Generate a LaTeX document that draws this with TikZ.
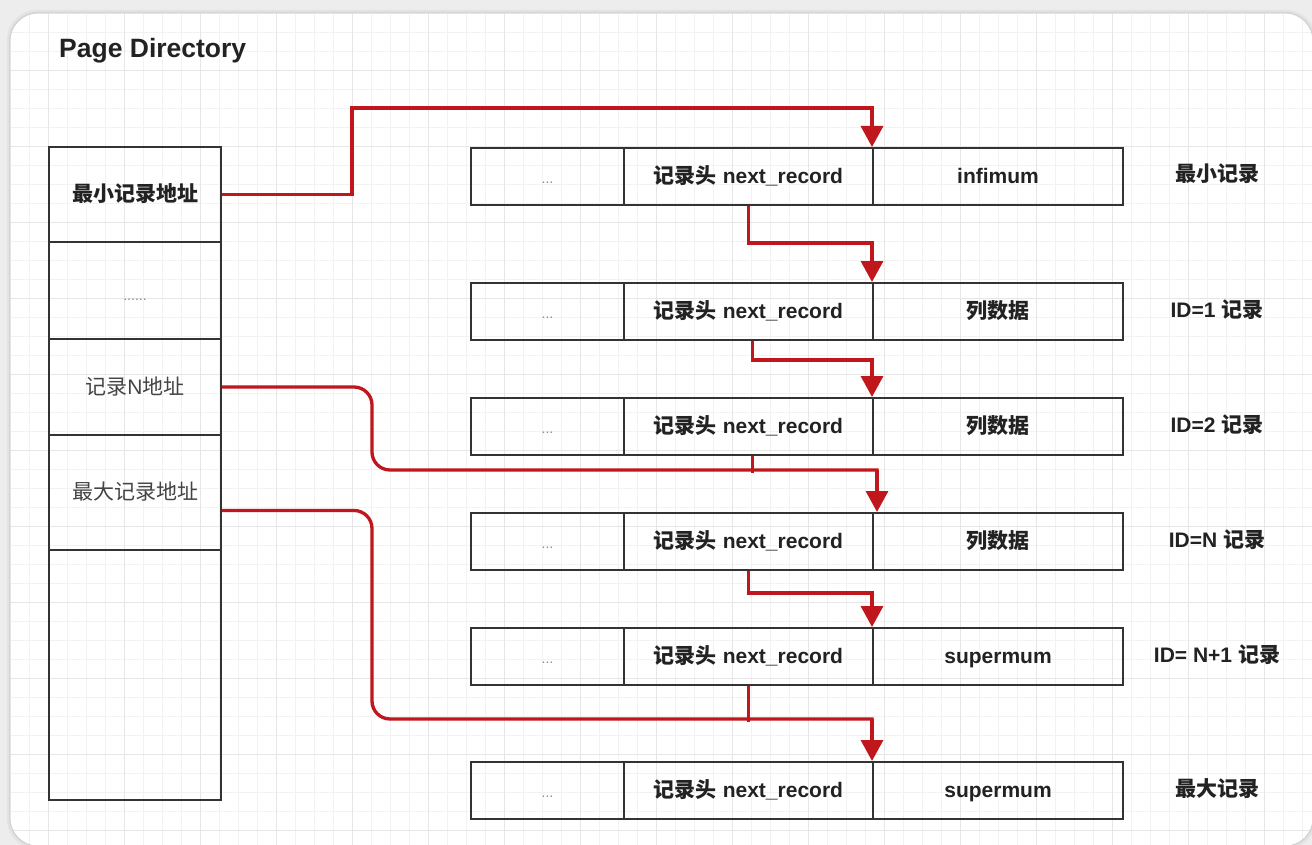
\documentclass[tikz,border=0pt]{standalone}
\usepackage{fontspec}
\setmainfont{Liberation Sans}
\newfontfamily\cjk{Noto Sans CJK SC}
\usetikzlibrary{arrows.meta}
\newcommand\zh[1]{{\cjk #1}}
\definecolor{linkred}{HTML}{C0171C}
\definecolor{boxline}{HTML}{333333}
\definecolor{txt}{HTML}{222222}
\definecolor{txtsoft}{HTML}{444444}
\definecolor{dotgray}{HTML}{8A8A8A}
\definecolor{gridminor}{HTML}{F2F2F2}
\definecolor{gridmajor}{HTML}{E6E6E6}
\definecolor{outerbg}{HTML}{EDEDED}
\tikzset{
  cell/.style={draw=boxline, line width=2pt, anchor=north west, inner sep=0pt,
    text=txt, text height=16pt, text depth=2pt, font=\fontsize{21}{25}\selectfont\bfseries},
  pcell/.style={cell, minimum width=172pt},
  dotcell/.style={cell, text=dotgray, font=\fontsize{14}{16}\selectfont},
  softcell/.style={cell, text=txtsoft, font=\fontsize{21}{25}\selectfont},
  reclabel/.style={inner sep=0pt, text=txt, text height=16pt, text depth=2pt, font=\fontsize{21}{25}\selectfont\bfseries},
  titletext/.style={inner sep=0pt, text=txt, font=\fontsize{26.5}{31}\selectfont\bfseries},
  linkline/.style={draw=linkred, line width=3.3pt},
  link/.style={linkline, -{Triangle[width=22pt,length=21pt]}},
}
\begin{document}
\begin{tikzpicture}[x=1pt,y=-1pt]
\useasboundingbox (0,0) rectangle (1312,845);
% background and card
\fill[outerbg] (0,0) rectangle (1312,845);
\fill[black!7, rounded corners=32pt] (4,7) rectangle (1319,852);
\fill[black!11, rounded corners=30pt] (7,10) rectangle (1316,849);
\fill[black!16, rounded corners=29pt] (9,12) rectangle (1314,847);
\begin{scope}
  \clip[rounded corners=28pt] (10,13) rectangle (1313,846);
  \fill[white] (10,13) rectangle (1313,846);
  \foreach \k in {0,...,68} \draw[gridminor, line width=0.8pt] ({10+19*\k},13) -- ({10+19*\k},846);
  \foreach \k in {0,...,43} \draw[gridminor, line width=0.8pt] (10,{13+19*\k}) -- (1313,{13+19*\k});
  \foreach \k in {0,...,16} \draw[gridmajor, line width=0.9pt] ({48+76*\k},13) -- ({48+76*\k},846);
  \foreach \k in {-1,...,9} \draw[gridmajor, line width=0.9pt] (10,{146+76*\k}) -- (1313,{146+76*\k});
\end{scope}
\draw[black!18, line width=0.8pt, rounded corners=28pt] (10,13) rectangle (1313,846);

% title
\node[titletext, anchor=west] (title) at (59,51) {Page Directory};

% page directory column
\node[pcell, minimum height=95pt] (L1) at (48,146) {\zh{最小记录地址}};
\node[pcell, dotcell, minimum width=172pt, minimum height=97pt] (L2) at (48,241) {\raisebox{-3pt}{......}};
\node[pcell, softcell, minimum width=172pt, minimum height=96pt] (L3) at (48,338) {\zh{记录}N\zh{地址}};
\node[pcell, softcell, minimum width=172pt, minimum height=115pt] (L4) at (48,434) {\zh{最大记录地址}};
\node[pcell, minimum height=250pt] (L5) at (48,549) {};

% records
\foreach \i/\y/\val/\lab in {
  1/147/infimum/{\zh{最小记录}},
  2/282/\zh{列数据}/{ID=1 \zh{记录}},
  3/397/\zh{列数据}/{ID=2 \zh{记录}},
  4/512/\zh{列数据}/{ID=N \zh{记录}},
  5/627/supermum/{ID= N+1 \zh{记录}},
  6/761/supermum/{\zh{最大记录}}} {
  \node[dotcell, minimum width=153pt, minimum height=57pt] (r\i a) at (470,\y) {...};
  \node[cell, minimum width=249pt, minimum height=57pt] (r\i b) at (623,\y) {\zh{记录头} next\_record};
  \node[cell, minimum width=250pt, minimum height=57pt] (r\i c) at (872,\y) {\val};
  \node[reclabel] (l\i) at (1217,\y+28) {\lab};
}

% connectors
\coordinate (k1) at (352,108);
\draw[link] (L1.east) -| (k1) -| (r1c.north west);
\draw[link] (r1b.south) -- ++(0,37) -| (r2c.north west);
\draw[link] ([xshift=4pt]r2b.south) -- ++(0,19) -| (r3c.north west);

\coordinate (j4) at (877,470);
\draw[linkline] ([xshift=4pt]r3b.south) -- ++(0,17);
\draw[linkline, rounded corners=18pt] (L3.east) -| (372,470) -- ([xshift=1.65pt]j4);
\draw[link] (j4) -- (j4 |- r4c.north);

\draw[link] (r4b.south) -- ++(0,22) -| (r5c.north west);

\coordinate (j6) at (872,719);
\draw[linkline] (r5b.south) -- ++(0,36);
\draw[linkline, rounded corners=18pt] ([yshift=-18pt]L4.east) -| (372,719) -- ([xshift=1.65pt]j6);
\draw[link] (j6) -- (r6c.north west);
\end{tikzpicture}
\end{document}
